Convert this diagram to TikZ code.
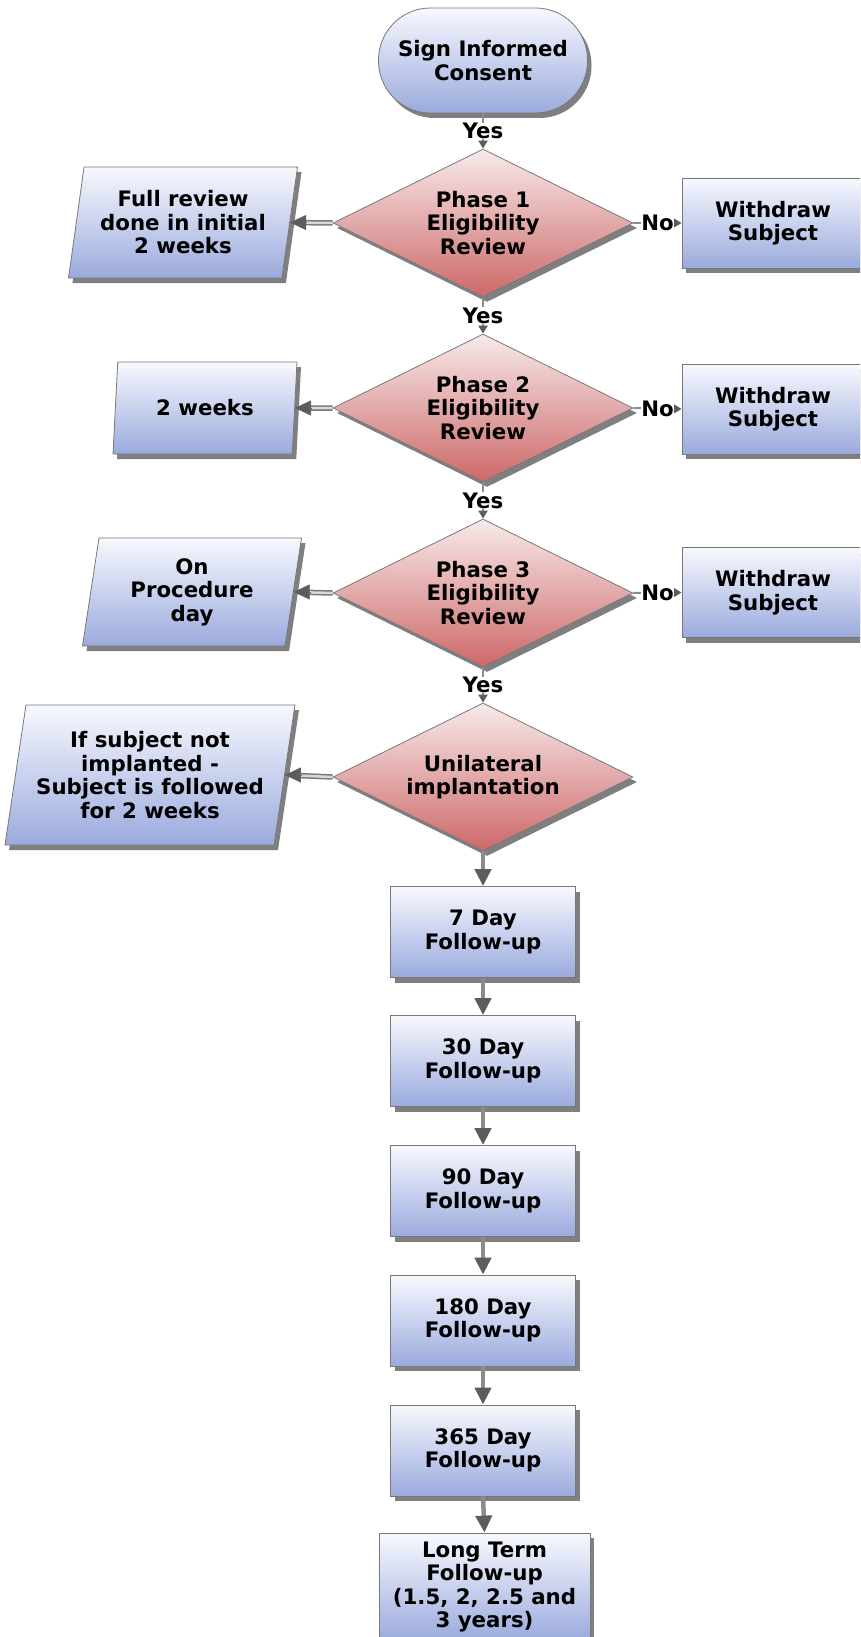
\documentclass[tikz,border=0pt]{standalone}
\usepackage{fontspec}
\setmainfont{DejaVu Sans}
\usetikzlibrary{shapes.geometric,shadows,arrows.meta,calc}
\definecolor{boxtop}{RGB}{248,249,254}
\definecolor{boxbot}{RGB}{154,170,221}
\definecolor{diatop}{RGB}{248,234,234}
\definecolor{diabot}{RGB}{205,104,104}
\definecolor{edgec}{RGB}{120,120,120}
\definecolor{connc}{RGB}{140,140,140}
\definecolor{tipc}{RGB}{92,92,92}
\definecolor{shaftc}{RGB}{215,215,215}
\tikzset{
  txt/.style={font=\bfseries\fontsize{21.3}{23.5}\selectfont, text=black},
  base/.style={txt, draw=edgec, line width=0.8pt, align=center, inner sep=2pt,
    drop shadow={shadow xshift=4pt, shadow yshift=-5pt, opacity=0.5, fill=black}},
  bluefill/.style={top color=boxtop, bottom color=boxbot},
  startbox/.style={base, bluefill, rectangle, rounded corners=52pt,
    minimum width=209pt, minimum height=105pt},
  decision/.style={base, diamond, aspect=2, top color=diatop, bottom color=diabot,
    minimum width=300pt, minimum height=148pt},
  procbox/.style={base, bluefill, rectangle, minimum width=185pt, minimum height=91pt},
  withdrawbox/.style={base, bluefill, rectangle, minimum width=182pt, minimum height=90pt},
  databox/.style={base, bluefill, trapezium, trapezium left angle=77,
    trapezium right angle=103, trapezium stretches body=true},
  lbl/.style={txt, fill=white, inner sep=0.5pt},
  yesno/.style={draw=connc, line width=2pt, -{Triangle[width=9pt,length=8pt,color=tipc]}},
  flow/.style={draw=connc, line width=4.5pt, -{Triangle[width=16pt,length=17pt,color=tipc]}},
  sideshaft/.style={draw=edgec, line width=5.5pt, shorten >=14pt,
    postaction={draw=shaftc, line width=2.5pt, shorten >=14pt}},
  sidetip/.style={draw=tipc, line width=0.6pt, -{Triangle[width=15pt,length=16pt,color=tipc]}},
}
\begin{document}
\begin{tikzpicture}[x=1pt,y=-1pt]
\useasboundingbox (0,0) rectangle (860,1637);
\clip (0,0) rectangle (860,1637);

% main column
\node[startbox] (start) at (483,60.5) {Sign Informed\\Consent};
\node[decision] (d1) at (483,223) {Phase 1\\Eligibility\\Review};
\node[decision] (d2) at (483,408) {Phase 2\\Eligibility\\Review};
\node[decision] (d3) at (483,593) {Phase 3\\Eligibility\\Review};
\node[decision] (d4) at (483,777) {Unilateral\\implantation};

\node[procbox] (f7) at (483,932) {7 Day\\Follow-up};
\node[procbox] (f30) at (483,1061) {30 Day\\Follow-up};
\node[procbox] (f90) at (483,1191) {90 Day\\Follow-up};
\node[procbox] (f180) at (483,1320.5) {180 Day\\Follow-up};
\node[procbox] (f365) at (483,1450.5) {365 Day\\Follow-up};
\node[procbox, minimum width=211pt, minimum height=108pt] (flt) at (484.5,1587)
  {Long Term\\Follow-up\\(1.5, 2, 2.5 and\\3 years)};

% left side notes
\node[databox, minimum width=229pt, minimum height=111pt] (p1) at (183,222.5)
  {Full review\\done in initial\\2 weeks};
\node[databox, minimum width=184pt, minimum height=92pt] (p2) at (205,408) {2 weeks};
\node[databox, minimum width=219pt, minimum height=108pt] (p3) at (192,592)
  {On\\Procedure\\day};
\node[databox, minimum width=290pt, minimum height=140pt] (p4) at (150,775)
  {If subject not\\implanted -\\Subject is followed\\for 2 weeks};

% right side withdraw boxes
\node[withdrawbox] (w1) at (773,223) {Withdraw\\Subject};
\node[withdrawbox] (w2) at (773,409) {Withdraw\\Subject};
\node[withdrawbox] (w3) at (773,592.5) {Withdraw\\Subject};

% Yes connectors
\draw[yesno] (start.south) -- node[lbl] {Yes} (d1.north);
\draw[yesno] (d1.south) -- node[lbl] {Yes} (d2.north);
\draw[yesno] (d2.south) -- node[lbl] {Yes} (d3.north);
\draw[yesno] (d3.south) -- node[lbl] {Yes} (d4.north);

% No connectors
\draw[yesno] (d1.east) -- node[lbl] {No} (w1.west);
\draw[yesno] (d2.east) -- node[lbl] {No} (w2.west);
\draw[yesno] (d3.east) -- node[lbl] {No} (w3.west);

% side connectors
\foreach \d/\p in {d1/p1,d2/p2,d3/p3,d4/p4}{
  \draw[sideshaft] (\d.west) -- (\p.east);
  \draw[sidetip] ($(\p.east)+(16pt,0)$) -- (\p.east);
}

% follow-up flow
\draw[flow] (d4.south) -- (f7.north);
\draw[flow] (f7.south) -- (f30.north);
\draw[flow] (f30.south) -- (f90.north);
\draw[flow] (f90.south) -- (f180.north);
\draw[flow] (f180.south) -- (f365.north);
\draw[flow] (f365.south) -- (flt.north);
\end{tikzpicture}
\end{document}
